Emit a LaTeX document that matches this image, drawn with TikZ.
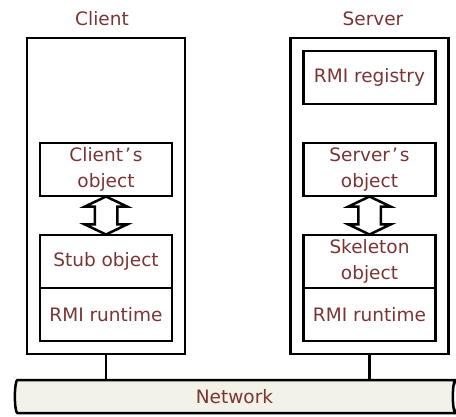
\documentclass[tikz,border=0pt]{standalone}
\usepackage{fontspec}
\setmainfont{DejaVu Sans}
\usetikzlibrary{shapes.arrows, shapes.geometric}
\definecolor{txtred}{RGB}{122,52,52}
\definecolor{netfill}{RGB}{243,242,232}

\begin{document}
\begin{tikzpicture} [x=1pt, y=-1pt, line width=2.5pt,
  every node/.style={font=\fontsize{18.5}{26}\selectfont, text=txtred},
  machine/.style={draw, minimum width=158pt, minimum height=316pt, inner sep=0pt},
  part/.style={draw, minimum width=132pt, minimum height=53pt, inner sep=0pt, align=center},
  dblarrow/.style={draw, shape=double arrow, rotate=90, inner xsep=0pt, inner ysep=10pt,
    minimum height=38pt, minimum width=41pt,
    double arrow head extend=10pt, double arrow tip angle=129}]
\useasboundingbox (0,0) rectangle (456,416);
\def\clx{106};
\def\svx{369.5};
% client
\node (client) [machine] at (\clx,196) {};
\node (clientlbl) at (102,19) {Client};
\node (cobj) [part] at (\clx,169.5) {Client\kern2pt’\kern2pt s\\object};
\node (stub) [part] at (\clx,261.5) {Stub object};
\node (crt) [part] at (\clx,314.5) {RMI runtime};
\node (carr) [dblarrow] at (\clx,215.5) {};
% server
\node (server) [machine] at (\svx,196) {};
\node (serverlbl) at (373,19) {Server};
\node (reg) [part] at (\svx,77.5) {RMI registry};
\node (sobj) [part] at (\svx,169.5) {Server\kern2pt’\kern2pt s\\object};
\node (skel) [part] at (\svx,261.5) {Skeleton\\object};
\node (srt) [part] at (\svx,314.5) {RMI runtime};
\node (sarr) [dblarrow] at (\svx,215.5) {};
% network
\node (net) [draw, cylinder, shape aspect=0.35, minimum height=443pt, minimum width=33pt,
  inner sep=0pt, cylinder uses custom fill, cylinder body fill=netfill,
  cylinder end fill=white] at (234.5,396.5) {Network};
\draw (client.south) -- (client.south |- net.north);
\draw (server.south) -- (server.south |- net.north);
\end{tikzpicture}
\end{document}
